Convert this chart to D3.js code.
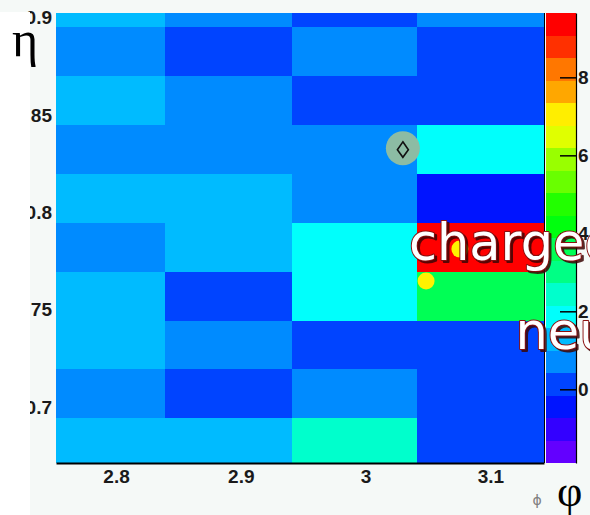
<!DOCTYPE html>
<html>
<head>
<meta charset="utf-8">
<script src="https://cdn.jsdelivr.net/npm/d3@7"></script>
<style>
  html, body { margin: 0; padding: 0; background: #f5f9f7; }
  svg { display: block; }
</style>
</head>
<body>
<svg id="chart" width="590" height="515"></svg>
<script>
// Calorimeter tower energies in (phi, eta), drawn COLZ-style with the pretty palette.
const phiEdges = [2.7380, 2.8393, 2.9410, 3.0412, 3.1432];
const etaEdges = [0.6691, 0.6942, 0.7193, 0.7444, 0.7695, 0.7946, 0.8197, 0.8448, 0.8699, 0.8950, 0.9201];

// tower energy, one row per eta bin (lowest eta first), columns follow phiEdges
const energyRows = [
  [1.21, 1.34, 2.47, 0.18],
  [0.66, 0.09, 0.78, 0.22],
  [1.42, 0.61, 0.12, 0.27],
  [1.30, 0.04, 1.93, 3.61],
  [0.83, 1.18, 1.88, 9.65],
  [1.36, 1.25, 0.74, -0.41],
  [0.57, 0.88, 0.69, 1.97],
  [1.11, 0.72, 0.21, 0.15],
  [0.93, 0.26, 0.58, 0.31],
  [1.27, 0.64, 0.10, 0.81]
];

const zRange = [-1.89, 9.65];
const zTicks = [0, 2, 4, 6, 8];
const phiTicks = [2.8, 2.9, 3.0, 3.1];
const etaTicks = [0.7, 0.75, 0.8, 0.85, 0.9];
const phiRange = [2.7519, 3.1430];
const etaRange = [0.67123, 0.9024];

// reconstructed objects on top of the towers
const neutralPhi = [3.0299];
const neutralEta = [0.8329];
const chargedPhi = [3.0485, 3.0756];
const chargedEta = [0.7647, 0.7811];

const W = 590, H = 515;
const frame = { left: 56, right: 544, top: 13, bottom: 463 };
const bar = { left: 546, right: 576 };

const svg = d3.select("#chart");

svg.append("rect").attr("width", W).attr("height", H).attr("fill", "#f5f9f7");

const x = d3.scaleLinear().domain(phiRange).range([frame.left, frame.right]);
const y = d3.scaleLinear().domain(etaRange).range([frame.bottom, frame.top]);

// pretty palette: 50 hues from violet to red, 20 contour levels picked from it
const nLevels = 20, nColors = 50;
const palette = d3.range(nLevels).map(i => {
  const idx = Math.floor((i + 0.99) * nColors / nLevels);
  return d3.hsl(280 - (idx + 1) * (280 / nColors), 1, 0.5).formatHex();
});
const color = d3.scaleQuantize().domain(zRange).range(palette);

svg.append("defs").append("clipPath").attr("id", "frameClip")
  .append("rect")
  .attr("x", frame.left).attr("y", frame.top)
  .attr("width", frame.right - frame.left).attr("height", frame.bottom - frame.top);

// tower cells
const cells = [];
energyRows.forEach((row, j) => row.forEach((e, i) => cells.push({ i, j, e })));

svg.append("g").attr("clip-path", "url(#frameClip)")
  .selectAll("rect").data(cells).join("rect")
  .attr("x", d => x(phiEdges[d.i]))
  .attr("y", d => y(etaEdges[d.j + 1]))
  .attr("width", d => x(phiEdges[d.i + 1]) - x(phiEdges[d.i]))
  .attr("height", d => y(etaEdges[d.j]) - y(etaEdges[d.j + 1]))
  .attr("fill", d => color(d.e))
  .attr("shape-rendering", "crispEdges");

// axes
const fontFam = "'Liberation Sans', Arial, Helvetica, sans-serif";

const xAxis = svg.append("g")
  .attr("transform", `translate(0,${frame.bottom})`)
  .call(d3.axisBottom(x).tickValues(phiTicks).tickSize(0).tickSizeOuter(0).tickPadding(7).tickFormat(d3.format("")));
xAxis.select(".domain").attr("stroke", "#000").attr("stroke-width", 2);

const yAxis = svg.append("g")
  .attr("transform", `translate(${frame.left},0)`)
  .call(d3.axisLeft(y).tickValues(etaTicks).tickSize(0).tickPadding(4).tickFormat(d3.format("")));
yAxis.select(".domain").remove();

svg.append("line")
  .attr("x1", frame.right + 0.5).attr("x2", frame.right + 0.5)
  .attr("y1", frame.top).attr("y2", frame.bottom)
  .attr("stroke", "#000").attr("stroke-width", 1);

// colour bar
const z = d3.scaleLinear().domain(zRange).range([frame.bottom, frame.top]);
const zEdges = [zRange[0], ...color.thresholds(), zRange[1]];
svg.append("g").selectAll("rect").data(palette).join("rect")
  .attr("x", bar.left)
  .attr("width", bar.right - bar.left)
  .attr("y", (c, k) => z(zEdges[k + 1]))
  .attr("height", (c, k) => z(zEdges[k]) - z(zEdges[k + 1]))
  .attr("fill", c => c)
  .attr("shape-rendering", "crispEdges");

const zAxis = svg.append("g")
  .attr("transform", `translate(${bar.right},0)`)
  .call(d3.axisRight(z).tickValues(zTicks).tickSize(-16).tickSizeOuter(0).tickPadding(2));
zAxis.select(".domain").attr("stroke", "#000").attr("stroke-width", 1.2);
zAxis.selectAll(".tick line").attr("stroke", "#000").attr("stroke-width", 1.5);

[xAxis, yAxis, zAxis].forEach(g => g.selectAll("text")
  .attr("font-family", fontFam).attr("font-weight", "bold")
  .attr("font-size", 19).attr("fill", "#1a1a1a"));
[xAxis, yAxis, zAxis].forEach(g => g.attr("font-family", null).attr("font-size", null));

// white margin strip on the left
svg.append("rect").attr("x", 0).attr("y", 12).attr("width", 30).attr("height", H - 12).attr("fill", "#ffffff");

// neutral cluster: disc with an open diamond marker
const neutral = svg.append("g").selectAll("g").data(neutralPhi.map((p, k) => [p, neutralEta[k]])).join("g")
  .attr("transform", d => `translate(${x(d[0])},${y(d[1])})`);
neutral.append("circle").attr("r", 17).attr("fill", "#8cbca4");
neutral.append("path")
  .attr("d", "M0,-6.5 L5.5,1.5 L0,9 L-5.5,1.5 Z")
  .attr("fill", "none").attr("stroke", "#111").attr("stroke-width", 1.6);

// charged tracks: yellow dots
svg.append("g").selectAll("circle").data(chargedPhi.map((p, k) => [p, chargedEta[k]])).join("circle")
  .attr("cx", d => x(d[0])).attr("cy", d => y(d[1]))
  .attr("r", 8.5).attr("fill", "#fff200");

// outlined labels
const labelFont = "'DejaVu Sans', Verdana, sans-serif";
function outlined(txt, lx, ly) {
  svg.append("text").attr("x", lx + 2.2).attr("y", ly + 2.2).text(txt)
    .attr("font-family", labelFont).attr("font-size", 51)
    .attr("fill", "#3a0606").attr("stroke", "#3a0606").attr("stroke-width", 2)
    .attr("stroke-linejoin", "round").attr("opacity", 0.85);
  svg.append("text").attr("x", lx).attr("y", ly).text(txt)
    .attr("font-family", labelFont).attr("font-size", 51)
    .attr("fill", "#ffffff").attr("stroke", "#8a1010").attr("stroke-width", 2)
    .attr("stroke-linejoin", "round").attr("paint-order", "stroke");
}
outlined("charged", 409, 260);
outlined("neutral", 515.5, 348.5);

// axis titles
svg.append("text").attr("x", 12).attr("y", 56).text("η")
  .attr("font-family", "'Liberation Serif', 'Times New Roman', serif")
  .attr("font-size", 50).attr("fill", "#000");
svg.append("text").attr("x", 557).attr("y", 506).text("φ")
  .attr("font-family", "'Liberation Serif', 'Times New Roman', serif")
  .attr("font-size", 44).attr("fill", "#000");
svg.append("text").attr("x", 537).attr("y", 505).text("ϕ")
  .attr("text-anchor", "middle")
  .attr("font-family", "'DejaVu Sans', sans-serif")
  .attr("font-size", 14).attr("fill", "#808080");
</script>
</body>
</html>
